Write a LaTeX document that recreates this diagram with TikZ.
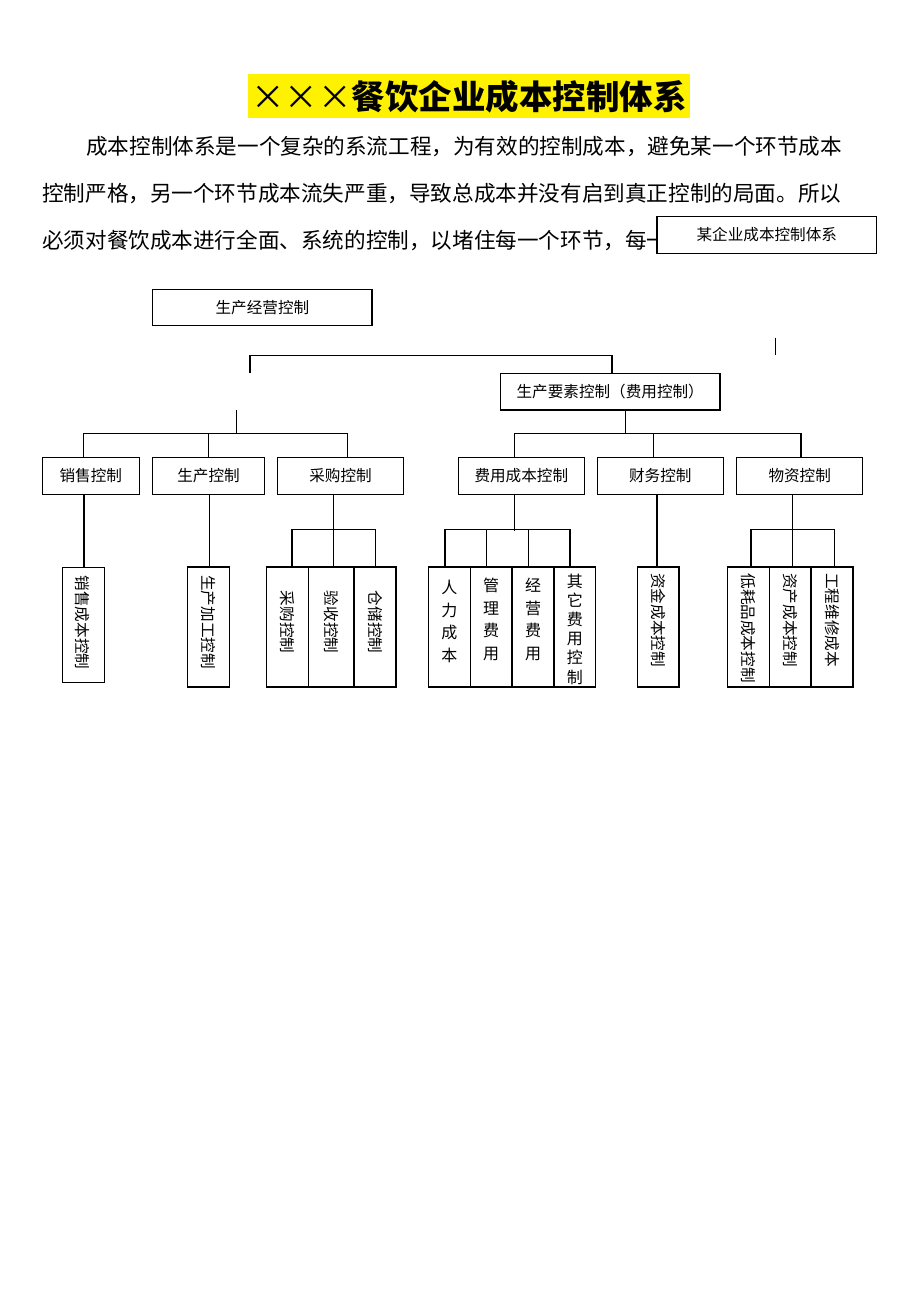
\documentclass[tikz,border=0pt]{standalone}
\usepackage{fontspec}
\setmainfont{Noto Sans CJK SC}
\begin{document}
\begin{tikzpicture}[x=1pt,y=-1pt]
\tikzset{
 box/.style={draw, line width=1.2pt, inner sep=0pt, font=\fontsize{15.6}{18}\selectfont},
 vbox/.style={draw, line width=1.2pt, inner sep=0pt, minimum width=42pt, minimum height=120pt},
 conn/.style={line width=1.2pt},
 lbl/.style={inner sep=0pt, font=\fontsize{15.6}{18}\selectfont},
 vlbl/.style={inner sep=0pt, rotate=-90, font=\fontsize{15.6}{18}\selectfont},
 stack/.style={inner sep=0pt, align=center, font=\fontsize{16}{22.7}\selectfont},
 para/.style={inner sep=0pt, anchor=base west, font=\fontsize{21.6}{26}\selectfont},
}
\newcommand{\xmark}{\makebox[1em]{\mdseries ×}}
\useasboundingbox (0,0) rectangle (920,1302);
\fill[white] (0,0) rectangle (920,1302);
% title
\fill[yellow] (247.8,74) rectangle (690,118.3);
\node[inner sep=0pt, anchor=base, font=\fontsize{33.5}{36}\selectfont\bfseries] (title) at (469,109.5)
 {\xmark\xmark\xmark 餐饮企业成本控制体系};
% paragraph
\node[para] (p1) at (86,154.7) {成本控制体系是一个复杂的系流工程，为有效的控制成本，避免某一个环节成本};
\node[para] (p2) at (42,201.7) {控制严格，另一个环节成本流失严重，导致总成本并没有启到真正控制的局面。所以};
\node[para] (p3) at (42,248.2) {必须对餐饮成本进行全面、系统的控制，以堵住每一个环节，每一};
% boxes
\node[box, fill=white, minimum width=219.7pt, minimum height=36.6pt] (top) at (766.8,235) {某企业成本控制体系};
\node[box, minimum width=219.3pt, minimum height=36pt] (jy) at (262.4,307.3) {生产经营控制};
\node[box, minimum width=219.7pt, minimum height=36.7pt] (ys) at (610.2,391.7) {生产要素控制（费用控制）};
\node[box, minimum width=97pt, minimum height=36.3pt] (xs) at (90.8,476) {销售控制};
\node[box, minimum width=111.6pt, minimum height=36.3pt] (sc) at (208.5,476) {生产控制};
\node[box, minimum width=125.6pt, minimum height=36.3pt] (cg) at (340.5,476) {采购控制};
\node[box, minimum width=126pt, minimum height=36.3pt] (fy) at (521.3,476) {费用成本控制};
\node[box, minimum width=126pt, minimum height=36.3pt] (cw) at (660.3,476) {财务控制};
\node[box, minimum width=126pt, minimum height=36.3pt] (wz) at (799.7,476) {物资控制};
% bottom boxes
\node[vbox, minimum height=114.8pt] (b1) at (83.3,624.9) {};
\node[vbox, minimum width=41.6pt] (b2) at (208.5,627) {};
\node[vbox] (b3) at (287.3,627) {};
\node[vbox, minimum width=45.7pt] (b4) at (331.2,627) {};
\node[vbox] (b5) at (375,627) {};
\node[vbox] (b6) at (449.3,627) {};
\node[vbox, minimum width=41.7pt] (b7) at (491.2,627) {};
\node[vbox] (b8) at (533,627) {};
\node[vbox, minimum width=41.7pt] (b9) at (574.9,627) {};
\node[vbox, minimum width=41.7pt] (b10) at (658.2,627) {};
\node[vbox] (b11) at (748.3,627) {};
\node[vbox, minimum width=41.7pt] (b12) at (790.2,627) {};
\node[vbox] (b13) at (832,627) {};
% labels in bottom boxes
\node[vlbl] (t1) at (82.5,622.5) {销售成本控制};
\node[vlbl] (t2) at (208.5,622) {生产加工控制};
\node[vlbl] (t3) at (287.3,622) {采购控制};
\node[vlbl] (t4) at (331.2,622) {验收控制};
\node[vlbl] (t5) at (375,622) {仓储控制};
\node[stack] (t6) at (449.3,621.5) {人\\力\\成\\本};
\node[stack] (t7) at (491.2,619.5) {管\\理\\费\\用};
\node[stack] (t8) at (533,619.5) {经\\营\\费\\用};
\node[stack, font=\fontsize{16}{19.2}\selectfont] (t9) at (574.9,629) {其\\它\\费\\用\\控\\制};
\node[vlbl] (t10) at (658.2,620) {资金成本控制};
\node[vlbl] (t11) at (748.3,628) {低耗品成本控制};
\node[vlbl] (t12) at (790.2,620) {资产成本控制};
\node[vlbl] (t13) at (832,620) {工程维修成本};
% connectors
\coordinate (s1) at (775.7,337.7);
\coordinate (s2) at (775.7,355.3);
\draw[conn] (s1) -- (s2);
\coordinate (bl) at (250,373.3);
\draw[conn] (bl) -- ++(0,-18) -| ([xshift=1.8pt]ys.north);
\coordinate (lt) at (236.3,410);
\draw[conn] (lt) -- ++(0,24.3);
\draw[conn] ([xshift=-7.5pt]xs.north) -- ++(0,-23.6) -| ([xshift=6.8pt]cg.north);
\draw[conn] ([xshift=0.2pt]sc.north) -- ++(0,-23.6);
\draw[conn] ([xshift=15.5pt]ys.south) -- ++(0,23.7);
\draw[conn] ([xshift=-7pt]fy.north) -- ++(0,-24.1) -| ([xshift=1.3pt]wz.north);
\draw[conn] ([xshift=-7pt]cw.north) -- ++(0,-24.1);
\draw[conn] ([xshift=-6.8pt]xs.south) -- ([xshift=0.7pt]b1.north);
\draw[conn] ([xshift=0.8pt]sc.south) -- ([xshift=0.8pt]b2.north);
\draw[conn] ([xshift=-7.2pt]cg.south) -- ++(0,36.15);
\draw[conn] ([xshift=4.7pt]b3.north) -- ++(0,-36.7) -| ([xshift=0.3pt]b5.north);
\draw[conn] ([xshift=2.5pt]b4.north) -- ++(0,-36.7);
\draw[conn] ([xshift=-7pt]fy.south) -- ++(0,36.15);
\draw[conn] ([xshift=-4.3pt]b6.north) -- ++(0,-36.7) -| ([xshift=-4.9pt]b9.north);
\draw[conn] ([xshift=-4.5pt]b7.north) -- ++(0,-36.7);
\draw[conn] ([xshift=-4.3pt]b8.north) -- ++(0,-36.7);
\draw[conn] ([xshift=-3.3pt]cw.south) -- ([xshift=-1.2pt]b10.north);
\draw[conn] ([xshift=-7pt]wz.south) -- ++(0,36.15);
\draw[conn] ([xshift=2.7pt]b11.north) -- ++(0,-36.7) -| ([xshift=2.3pt]b13.north);
\draw[conn] ([xshift=2.5pt]b12.north) -- ++(0,-36.7);
\end{tikzpicture}
\end{document}
